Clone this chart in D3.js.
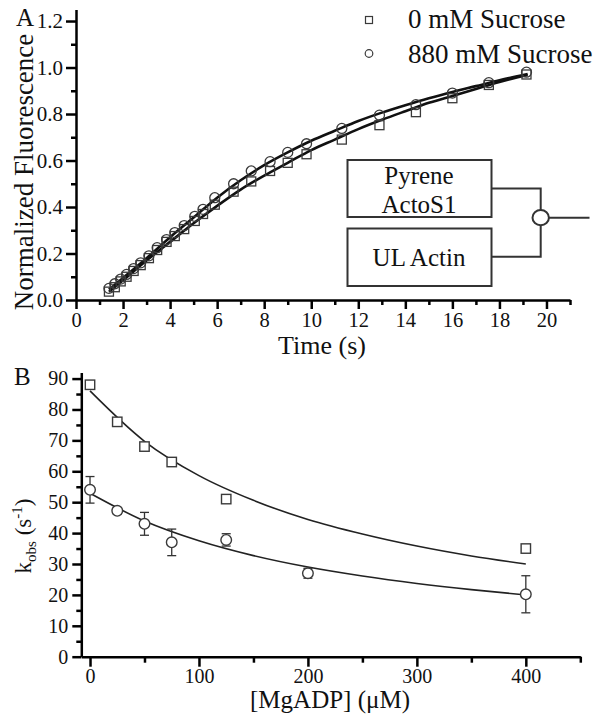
<!DOCTYPE html>
<html><head><meta charset="utf-8">
<script src="https://cdn.jsdelivr.net/npm/d3@7"></script>
<style>
body{margin:0;background:#fff}
svg{display:block}
text{font-family:"Liberation Serif","Times New Roman",serif;fill:#111}
</style>
</head><body>
<svg id="c" width="604" height="718"></svg>
<script>
// ---------- Panel A data ----------
const timesA   = [1.4,1.65,1.9,2.15,2.45,2.75,3.1,3.45,3.85,4.2,4.6,5.05,5.4,5.9,6.7,7.45,8.25,9.0,9.8,11.3,12.9,14.45,16.0,17.55,19.15];
const fluor0   = [0.036,0.055,0.08,0.10,0.125,0.15,0.18,0.215,0.25,0.275,0.305,0.34,0.37,0.41,0.466,0.51,0.555,0.59,0.627,0.69,0.752,0.808,0.868,0.925,0.97];
const fluor880 = [0.05,0.07,0.09,0.11,0.135,0.16,0.19,0.225,0.26,0.29,0.32,0.36,0.39,0.44,0.50,0.555,0.595,0.635,0.672,0.738,0.795,0.84,0.89,0.935,0.98];
const fitTimesA = [1.4,2,3,4,5,6,7,8,9,10,11,12,13,14,15,16,17,18,19.2];
const fitA0     = [0.035,0.085,0.17,0.25,0.33,0.405,0.475,0.535,0.59,0.645,0.69,0.735,0.775,0.812,0.848,0.878,0.908,0.938,0.968];
const fitA880   = [0.045,0.095,0.18,0.27,0.355,0.44,0.515,0.58,0.635,0.685,0.728,0.77,0.806,0.838,0.868,0.895,0.92,0.945,0.972];
const xMajorA = [0,2,4,6,8,10,12,14,16,18,20];
const xMinorA = [1,3,5,7,9,11,13,15,17,19,21];
const yMajorA = [0,0.2,0.4,0.6,0.8,1.0,1.2];
const yMinorA = [0.1,0.3,0.5,0.7,0.9,1.1];
const legendLabels = ["0 mM Sucrose","880 mM Sucrose"];

// ---------- Panel B data ----------
const mgadp0   = [0,25,50,75,125,400];
const kobs0    = [88,76,68,63,51,35];
const mgadp880 = [0,25,50,75,125,200,400];
const kobs880  = [54,47.2,43,37,37.8,27,20.2];
const err880   = [4.3,1,3.7,4.3,2,1.6,6];
const fitXB    = [0,50,100,150,200,250,300,350,400];
const fitB0    = [86,69.7,58.6,50.6,44.4,39.7,35.8,32.6,30.0];
const fitB880  = [52.9,43.9,37.5,32.7,29.0,26.1,23.7,21.7,20.0];
const xMajorB = [0,100,200,300,400];
const xMinorB = [50,150,250,350,450];
const yMajorB = [0,10,20,30,40,50,60,70,80,90];
const yMinorB = [5,15,25,35,45,55,65,75,85];

const svg = d3.select("#c");
const markStroke = "#3a3a3a";

function styleAxis(g, w){
  g.attr("font-family",null);
  g.select(".domain").attr("stroke","#000").attr("stroke-width",w);
  g.selectAll(".tick line").attr("stroke","#000").attr("stroke-width",w);
  g.selectAll("text").attr("fill","#111");
}

// ================= Panel A =================
const xA = d3.scaleLinear().domain([0,21]).range([76,570]);
const yA = d3.scaleLinear().domain([0,1.25]).range([300,9.4]);

const gxA = svg.append("g").attr("transform","translate(0,300)")
  .call(d3.axisBottom(xA).tickValues(xMajorA).tickSize(9).tickSizeOuter(0).tickPadding(3).tickFormat(d3.format("d")));
styleAxis(gxA,2.5);
gxA.selectAll("text").attr("font-size",20.5);
const gxAm = svg.append("g").attr("transform","translate(0,300)")
  .call(d3.axisBottom(xA).tickValues(xMinorA).tickSize(5).tickSizeOuter(0).tickFormat(""));
styleAxis(gxAm,2.5); gxAm.select(".domain").remove();

const gyA = svg.append("g").attr("transform","translate(76,0)")
  .call(d3.axisLeft(yA).tickValues(yMajorA).tickSize(10).tickSizeOuter(0).tickPadding(3).tickFormat(d3.format(".1f")));
styleAxis(gyA,2.5);
gyA.selectAll("text").attr("font-size",21);
const gyAm = svg.append("g").attr("transform","translate(76,0)")
  .call(d3.axisLeft(yA).tickValues(yMinorA).tickSize(5).tickSizeOuter(0).tickFormat(""));
styleAxis(gyAm,2.5); gyAm.select(".domain").remove();

// fit curves A
const lineA = d3.line().x(d=>xA(d[0])).y(d=>yA(d[1])).curve(d3.curveMonotoneX);
[fitA0, fitA880].forEach(f=>{
  svg.append("path").datum(fitTimesA.map((t,i)=>[t,f[i]]))
    .attr("d",lineA).attr("fill","none").attr("stroke","#111").attr("stroke-width",2.6);
});
// markers A
svg.append("g").selectAll("rect").data(timesA.map((t,i)=>[t,fluor0[i]])).join("rect")
  .attr("x",d=>xA(d[0])-4.5).attr("y",d=>yA(d[1])-4.5).attr("width",9).attr("height",9)
  .attr("fill","none").attr("stroke",markStroke).attr("stroke-width",1.3);
svg.append("g").selectAll("circle").data(timesA.map((t,i)=>[t,fluor880[i]])).join("circle")
  .attr("cx",d=>xA(d[0])).attr("cy",d=>yA(d[1])).attr("r",5)
  .attr("fill","none").attr("stroke",markStroke).attr("stroke-width",1.3);

// axis titles A
svg.append("text").attr("x",322).attr("y",354).attr("text-anchor","middle").attr("font-size",26).text("Time (s)");
svg.append("text").attr("transform","translate(33,172) rotate(-90)").attr("text-anchor","middle").attr("font-size",27).text("Normalized Fluorescence");
svg.append("text").attr("x",16).attr("y",26).attr("font-size",25).text("A");

// legend A
svg.append("rect").attr("x",365.5).attr("y",16.5).attr("width",7).attr("height",7).attr("fill","none").attr("stroke",markStroke).attr("stroke-width",1.2);
svg.append("circle").attr("cx",369).attr("cy",53.5).attr("r",3.8).attr("fill","none").attr("stroke",markStroke).attr("stroke-width",1.2);
svg.append("text").attr("x",408).attr("y",27.5).attr("font-size",27).text(legendLabels[0]);
svg.append("text").attr("x",408).attr("y",63).attr("font-size",27).text(legendLabels[1]);

// schematic inset
const sch = svg.append("g").attr("stroke","#333").attr("stroke-width",2).attr("fill","none");
sch.append("rect").attr("x",347.5).attr("y",160).attr("width",144).attr("height",57);
sch.append("rect").attr("x",347.5).attr("y",228.5).attr("width",144).attr("height",57.5);
sch.append("path").attr("d","M491.5,188.5 H540.7 V210");
sch.append("path").attr("d","M491.5,256.7 H540.7 V225.5");
sch.append("ellipse").attr("cx",540.7).attr("cy",217.7).attr("rx",8.2).attr("ry",7.6).attr("fill","#fff");
sch.append("path").attr("d","M549,217.7 H589.5");
svg.append("text").attr("x",419).attr("y",183.5).attr("text-anchor","middle").attr("font-size",25).text("Pyrene");
svg.append("text").attr("x",419).attr("y",213).attr("text-anchor","middle").attr("font-size",25).text("ActoS1");
svg.append("text").attr("x",419).attr("y",266).attr("text-anchor","middle").attr("font-size",25).text("UL Actin");

// ================= Panel B =================
const xB = d3.scaleLinear().domain([-8,450]).range([81.3,580.3]);
const yB = d3.scaleLinear().domain([0,92]).range([656.7,372.4]);

const gxB = svg.append("g").attr("transform","translate(0,656.7)")
  .call(d3.axisBottom(xB).tickValues(xMajorB).tickSize(10).tickSizeOuter(0).tickPadding(2).tickFormat(d3.format("d")));
styleAxis(gxB,2.5);
gxB.selectAll("text").attr("font-size",20);
const gxBm = svg.append("g").attr("transform","translate(0,656.7)")
  .call(d3.axisBottom(xB).tickValues(xMinorB).tickSize(6).tickSizeOuter(0).tickFormat(""));
styleAxis(gxBm,2.5); gxBm.select(".domain").remove();

const gyB = svg.append("g").attr("transform","translate(81.3,0)")
  .call(d3.axisLeft(yB).tickValues(yMajorB).tickSize(9).tickSizeOuter(0).tickPadding(4).tickFormat(d3.format("d")));
styleAxis(gyB,2.5);
gyB.selectAll("text").attr("font-size",20);
const gyBm = svg.append("g").attr("transform","translate(81.3,0)")
  .call(d3.axisLeft(yB).tickValues(yMinorB).tickSize(5).tickSizeOuter(0).tickFormat(""));
styleAxis(gyBm,2.5); gyBm.select(".domain").remove();

const lineB = d3.line().x(d=>xB(d[0])).y(d=>yB(d[1])).curve(d3.curveMonotoneX);
[fitB0, fitB880].forEach(f=>{
  svg.append("path").datum(fitXB.map((x,i)=>[x,f[i]]))
    .attr("d",lineB).attr("fill","none").attr("stroke","#222").attr("stroke-width",1.6);
});

// error bars
const eb = svg.append("g").attr("stroke","#333").attr("stroke-width",1.3);
mgadp880.forEach((x,i)=>{
  const cx = xB(x), y1 = yB(kobs880[i]+err880[i]), y2 = yB(kobs880[i]-err880[i]);
  eb.append("line").attr("x1",cx).attr("x2",cx).attr("y1",y1).attr("y2",y2);
  eb.append("line").attr("x1",cx-4.5).attr("x2",cx+4.5).attr("y1",y1).attr("y2",y1);
  eb.append("line").attr("x1",cx-4.5).attr("x2",cx+4.5).attr("y1",y2).attr("y2",y2);
});
svg.append("g").selectAll("circle").data(mgadp880.map((x,i)=>[x,kobs880[i]])).join("circle")
  .attr("cx",d=>xB(d[0])).attr("cy",d=>yB(d[1])).attr("r",5.3)
  .attr("fill","#fff").attr("stroke",markStroke).attr("stroke-width",1.4);
svg.append("g").selectAll("rect").data(mgadp0.map((x,i)=>[x,kobs0[i]])).join("rect")
  .attr("x",d=>xB(d[0])-4.7).attr("y",d=>yB(d[1])-4.7).attr("width",9.4).attr("height",9.4)
  .attr("fill","#fff").attr("stroke",markStroke).attr("stroke-width",1.4);

// axis titles B
svg.append("text").attr("x",330).attr("y",708).attr("text-anchor","middle").attr("font-size",25).text("[MgADP] (\u03BCM)");
const yt = svg.append("text").attr("transform","translate(31,536) rotate(-90)").attr("text-anchor","middle").attr("font-size",23);
yt.append("tspan").text("k");
yt.append("tspan").attr("font-size",15).attr("dy",5).text("obs");
yt.append("tspan").attr("dy",-5).text(" (s");
yt.append("tspan").attr("font-size",15).attr("dy",-9).text("-1");
yt.append("tspan").attr("dy",9).text(")");
svg.append("text").attr("x",14).attr("y",385).attr("font-size",25).text("B");
</script>
</body></html>
